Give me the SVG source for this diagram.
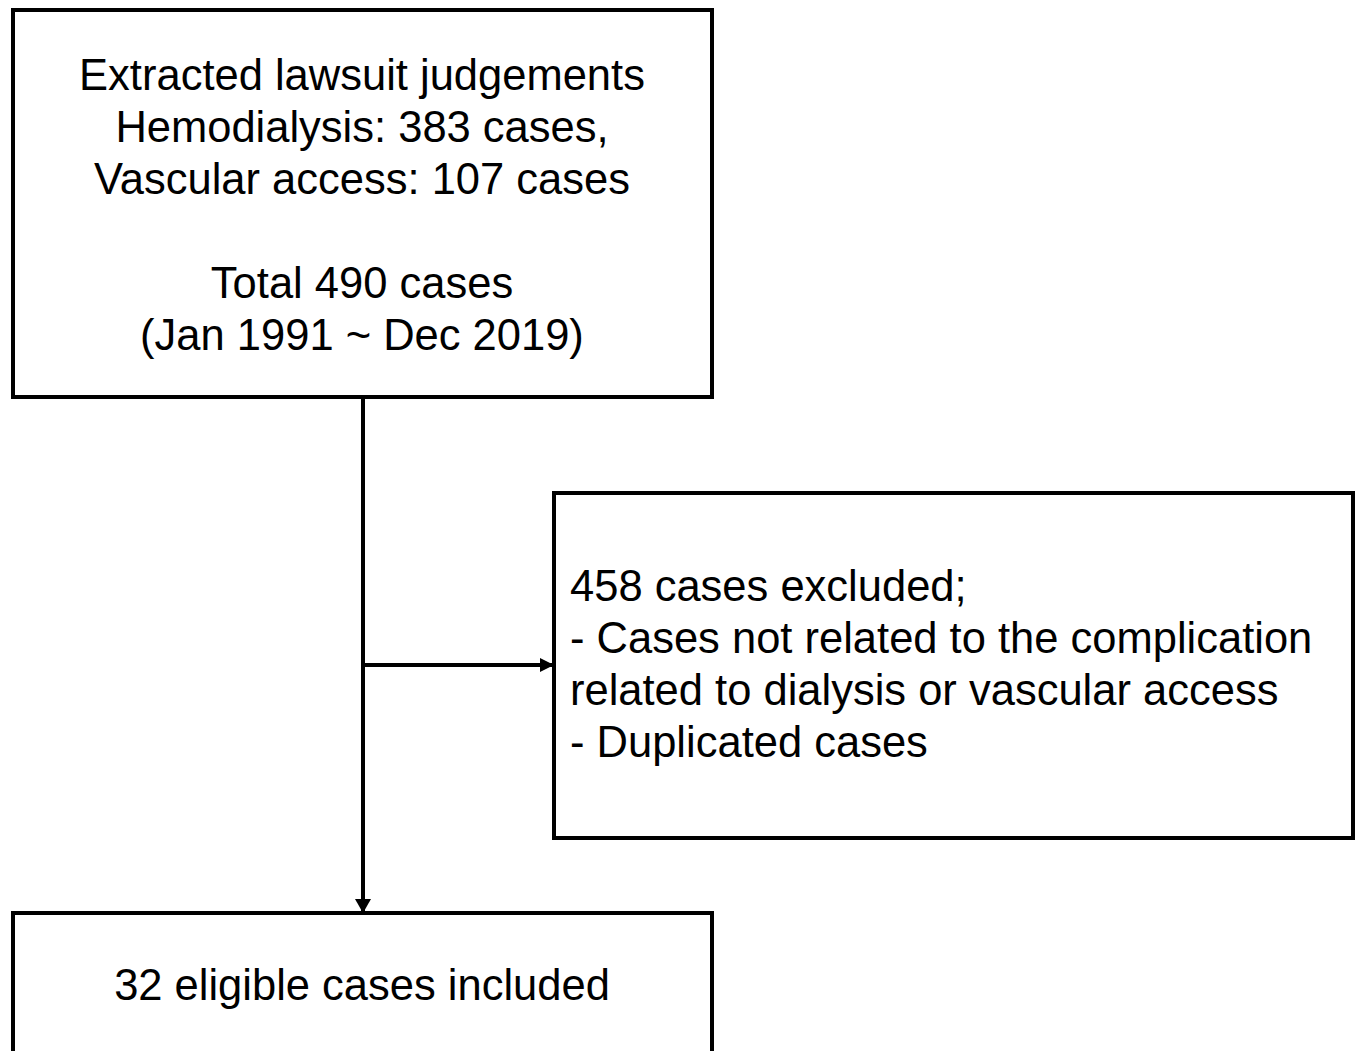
<svg xmlns="http://www.w3.org/2000/svg" width="1356" height="1051" viewBox="0 0 1356 1051">
<style>
.box{fill:#fff;stroke:#000;stroke-width:4}
.t{font-family:"Liberation Sans",Arial,sans-serif;font-size:43.5px;fill:#000}
.c{text-anchor:middle}
.ln{stroke:#000;stroke-width:4;fill:none}
</style>
<defs>
<marker id="ah" markerWidth="14" markerHeight="14" refX="12" refY="7" orient="auto" markerUnits="userSpaceOnUse">
<path d="M0,0 L14,7 L0,14 Z" fill="#000"/>
</marker>
<marker id="ah2" markerWidth="14" markerHeight="16" refX="14" refY="8" orient="auto" markerUnits="userSpaceOnUse">
<path d="M0,0 L14,8 L0,16 Z" fill="#000"/>
</marker>
</defs>
<rect width="1356" height="1051" fill="#fff"/>
<g id="connectors">
<line class="ln" x1="363" y1="397" x2="363" y2="913" marker-end="url(#ah2)"/>
<line class="ln" x1="363" y1="665" x2="552" y2="665" marker-end="url(#ah)"/>
</g>
<g id="node-extracted">
<rect class="box" x="13" y="10" width="699" height="387"/>
<text class="t c" x="362" y="90">Extracted lawsuit judgements</text>
<text class="t c" x="362" y="142">Hemodialysis: 383 cases,</text>
<text class="t c" x="362" y="194">Vascular access: 107 cases</text>
<text class="t c" x="362" y="298">Total 490 cases</text>
<text class="t c" x="362" y="350">(Jan 1991 ~ Dec 2019)</text>
</g>
<g id="node-excluded">
<rect class="box" x="554" y="493" width="799" height="345"/>
<text class="t" x="570" y="601">458 cases excluded;</text>
<text class="t" x="570" y="653">- Cases not related to the complication</text>
<text class="t" x="570" y="705">related to dialysis or vascular access</text>
<text class="t" x="570" y="757">- Duplicated cases</text>
</g>
<g id="node-included">
<rect class="box" x="13" y="913" width="699" height="140"/>
<text class="t c" x="362" y="1000">32 eligible cases included</text>
</g>
</svg>
